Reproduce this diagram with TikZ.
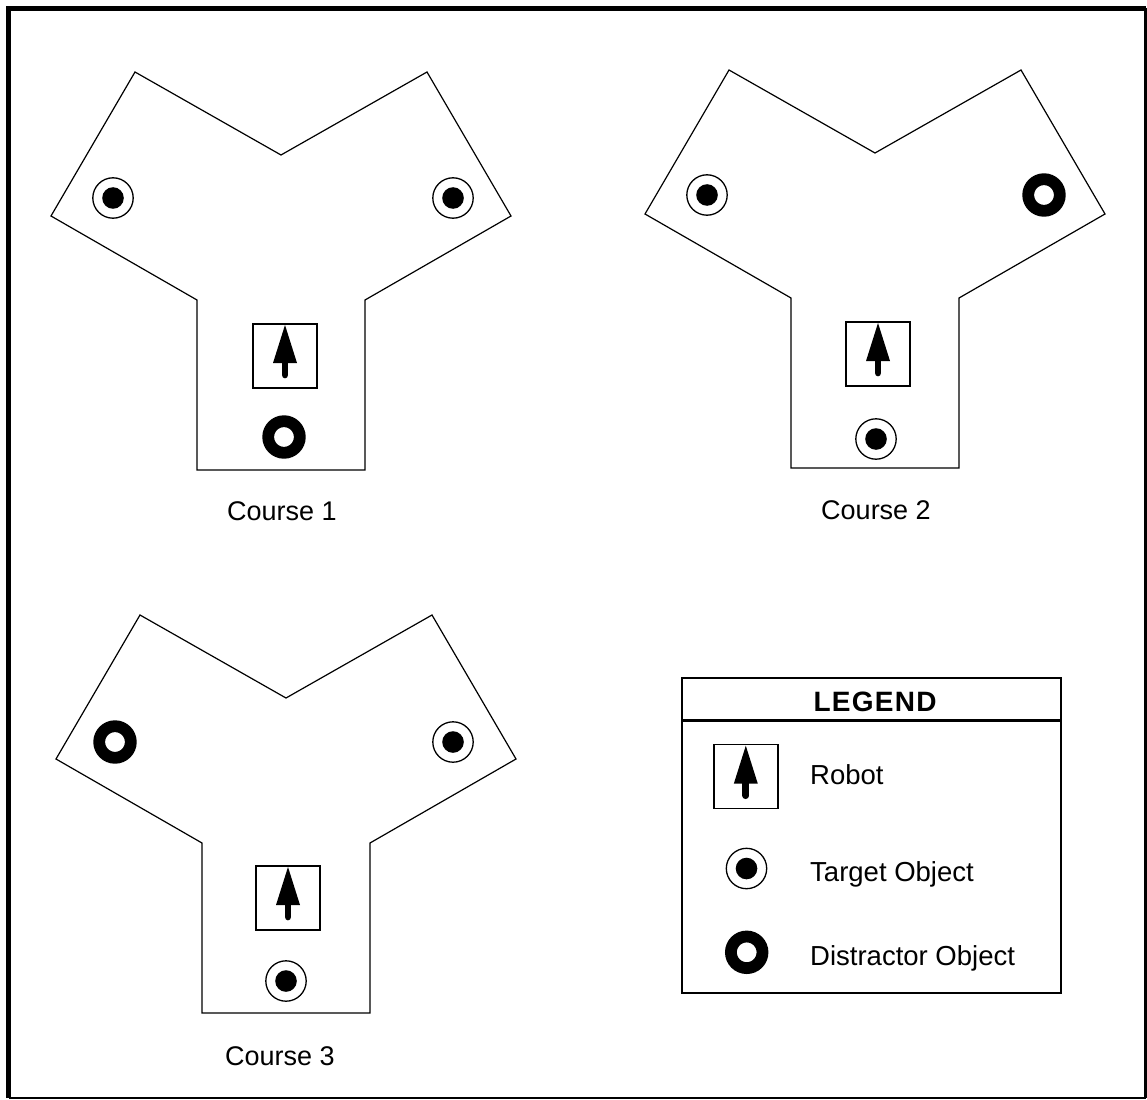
\documentclass[tikz,border=0pt]{standalone}
\usepackage{fontspec}
\setmainfont{Liberation Sans}
\newfontfamily\legendhead[LetterSpace=4.5]{Liberation Sans}
\tikzset{
  coursepath/.style={draw, line width=1.2pt, line join=miter},
  robotbox/.style={draw, line width=1.4pt, minimum size=64pt, inner sep=0pt, outer sep=0pt},
  targetring/.style={circle, draw, line width=1.3pt, minimum size=40.4pt, inner sep=0pt},
  distractorring/.style={circle, draw, line width=11.8pt, minimum size=31.6pt, inner sep=0pt},
  courselabel/.style={anchor=base, inner sep=0pt, font=\fontsize{27}{32}\selectfont},
  legendtext/.style={anchor=base west, inner sep=0pt, font=\fontsize{27.5}{33}\selectfont},
}
\newcommand\robotsym[2]{%
  \node[robotbox] (#1) at (#2) {};
  \begin{scope}[shift={(#2)}]
    \fill (0,-31) -- (-12,7) -- (12,7) -- cycle;
    \draw[line width=6.7pt, line cap=round] (0,5) -- (0,19);
  \end{scope}}
\newcommand\targetsym[2]{%
  \node[targetring] (#1) at (#2) {};
  \fill (#1.center) circle[radius=10.8pt];}
\newcommand\distractorsym[2]{%
  \node[distractorring] (#1) at (#2) {};}
\newcommand\courseshape{%
  \path[coursepath] (-146,0) -- (0,83) -- (146,0) -- (230,144) -- (84,228)
    -- (84,398) -- (-84,398) -- (-84,228) -- (-230,144) -- cycle;}
\begin{document}
\begin{tikzpicture}[x=1pt, y=-1pt]
\useasboundingbox (0,0) rectangle (1147,1099);
\fill[white] (0,0) rectangle (1147,1099);
% outer frame
\draw[line width=5pt] (8.5,1098) -- (8.5,8.5) -- (1145.5,8.5);
\draw[line width=3pt] (1145.5,8.5) -- (1145.5,1098);
\draw[line width=2pt] (8.5,1098) -- (1145.5,1098);

% Course 1
\begin{scope}[shift={(281,72)}]
  \courseshape
  \targetsym{c1left}{-168,126}
  \targetsym{c1right}{172,126}
  \robotsym{c1robot}{4,284}
  \distractorsym{c1bottom}{3,365}
  \node[courselabel] (c1label) at (1,448.5) {Course 1};
\end{scope}

% Course 2
\begin{scope}[shift={(875,70)}]
  \courseshape
  \targetsym{c2left}{-168,125}
  \distractorsym{c2right}{169,125}
  \robotsym{c2robot}{3,284}
  \targetsym{c2bottom}{1,369}
  \node[courselabel] (c2label) at (1,449) {Course 2};
\end{scope}

% Course 3
\begin{scope}[shift={(286,615)}]
  \courseshape
  \distractorsym{c3left}{-171,127}
  \targetsym{c3right}{167,127}
  \robotsym{c3robot}{2,283}
  \targetsym{c3bottom}{0,366}
  \node[courselabel] (c3label) at (-6,450) {Course 3};
\end{scope}

% Legend
\draw[line width=2pt] (681.7,678.3) rectangle (1061,993.3);
\draw[line width=3pt] (681.7,720) -- (1061,720);
\node[anchor=base, inner sep=0pt, font=\legendhead\bfseries\fontsize{28}{33}\selectfont] (leghead) at (875,711.7) {LEGEND};
\robotsym{legrobot}{745.8,776.7}
\targetsym{legtarget}{746.5,868.5}
\distractorsym{legdistractor}{746.7,952.3}
\node[legendtext] (legrobottext) at (810,784.3) {Robot};
\node[legendtext] (legtargettext) at (810,881.7) {Target Object};
\node[legendtext] (legdistractortext) at (810,965.7) {Distractor Object};
\end{tikzpicture}
\end{document}
